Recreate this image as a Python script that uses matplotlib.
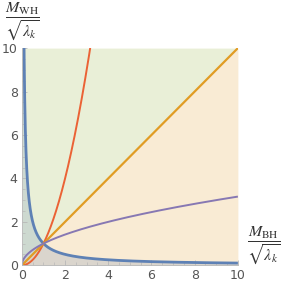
import numpy as np
import matplotlib
matplotlib.use("Agg")
import matplotlib.pyplot as plt
from matplotlib.ticker import MultipleLocator

# curves y = x**p, in drawing order
curve_names = ["inverse", "square", "linear", "sqrt"]
curve_powers = [-1.0, 2.0, 1.0, 0.5]
curve_colors = ["#5e81b5", "#eb6235", "#e19c24", "#8778b3"]
curve_widths = [2.0, 1.4, 1.6, 1.4]

tick_values = [0, 2, 4, 6, 8, 10]
x_max = 10
y_max = 10

green_fill = "#e9efd7"
orange_fill = "#f9ebd4"
blue_tint = "#5e81b5"

plt.rcParams["mathtext.fontset"] = "stix"

fig = plt.figure(figsize=(2.88, 2.88), dpi=100)
ax = fig.add_axes([0.076, 0.079, 0.75, 0.754])

x = np.linspace(1e-4, x_max, 2000)
# y > x region green, y < x orange
ax.fill_between(x, x, y_max, color=green_fill, lw=0)
ax.fill_between(x, 0, np.minimum(x, y_max), color=orange_fill, lw=0)
# below 1/x shaded with blue tint
ax.fill_between(x, 0, np.minimum(1 / x, y_max), color=blue_tint, alpha=0.2, lw=0)

for name, p, c, w in zip(curve_names, curve_powers, curve_colors, curve_widths):
    ax.plot(x, x ** p, color=c, lw=w, solid_capstyle="butt")

ax.set_xlim(0, x_max)
ax.set_ylim(0, y_max)
ax.set_xticks(tick_values)
ax.set_yticks(tick_values)
ax.xaxis.set_minor_locator(MultipleLocator(0.5))
ax.yaxis.set_minor_locator(MultipleLocator(0.5))
ax.tick_params(which="both", direction="in", colors="#b8b8b8", labelcolor="#555555",
               labelsize=9)
ax.tick_params(axis="x", pad=2.5)
ax.tick_params(axis="y", pad=3)
ax.tick_params(which="major", length=3.5, width=0.6)
ax.tick_params(which="minor", length=2, width=0.5)
for side in ["top", "right"]:
    ax.spines[side].set_visible(False)
for side in ["left", "bottom"]:
    ax.spines[side].set_color("#b8b8b8")
    ax.spines[side].set_linewidth(0.6)

fig.text(0.078, 0.925, r"$\dfrac{M_{\rm WH}}{\sqrt{\lambda_k}}$", fontsize=11.5,
         ha="center", va="center", color="#333333")
fig.text(0.915, 0.148, r"$\dfrac{M_{\rm BH}}{\sqrt{\lambda_k}}$", fontsize=11.5,
         ha="center", va="center", color="#333333")

fig.savefig("out.png", dpi=100)
